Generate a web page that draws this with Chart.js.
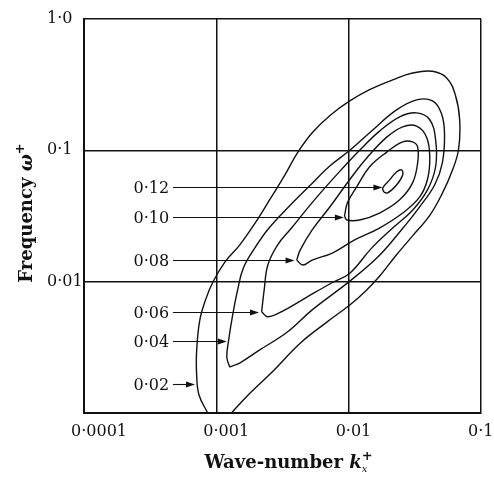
<!DOCTYPE html>
<html>
<head>
<meta charset="utf-8">
<script src="https://cdn.jsdelivr.net/npm/chart.js@4"></script>
<style>
  html, body { margin: 0; padding: 0; background: #fff; }
  #wrap { width: 494px; height: 483px; }
</style>
</head>
<body>
<div id="wrap"><canvas id="chart" width="494" height="483"></canvas></div>
<script>
// ticks
const xTickVals = [0.0001, 0.001, 0.01, 0.1];
const xTickLabels = ["0·0001", "0·001", "0·01", "0·1"];
const yTickVals = [0.001, 0.01, 0.1, 1];
const yTickLabels = ["", "0·01", "0·1", "1·0"];

// contour levels, outlines as [k, omega]
const levels = ["0·02", "0·04", "0·06", "0·08", "0·10", "0·12"];

const c002 = [[0.00086,0.001],[0.00074,0.00137],[0.00071,0.00195],[0.00071,0.0030],[0.00075,0.0051],
  [0.00083,0.0073],[0.00094,0.0099],[0.00116,0.0141],[0.0015,0.019],[0.00199,0.0285],[0.00258,0.0434],
  [0.0033,0.065],[0.0041,0.0955],[0.0053,0.136],[0.0073,0.186],[0.0102,0.238],[0.0144,0.29],[0.0215,0.344],
  [0.0304,0.388],[0.043,0.40],[0.055,0.356],[0.064,0.264],[0.069,0.171],[0.0676,0.101],[0.060,0.068],
  [0.051,0.047],[0.041,0.032],[0.0304,0.0223],[0.0226,0.0157],[0.0171,0.0110],[0.0132,0.00835],
  [0.0102,0.00665],[0.0068,0.0049],[0.0043,0.0034],[0.0027,0.0021],[0.0018,0.00142],[0.0013,0.001]];

const c004 = [[0.00126,0.00224],[0.0012,0.00267],[0.00124,0.0036],[0.00133,0.0056],[0.00145,0.0087],
  [0.0016,0.0127],[0.00195,0.018],[0.0025,0.0256],[0.0036,0.038],[0.0051,0.054],[0.0072,0.076],
  [0.0102,0.10],[0.0152,0.143],[0.023,0.203],[0.0326,0.242],[0.043,0.238],[0.050,0.193],[0.053,0.136],
  [0.051,0.080],[0.0446,0.0545],[0.0343,0.037],[0.0243,0.0239],[0.0166,0.0154],[0.0102,0.0101],
  [0.0053,0.0061],[0.0034,0.0041],[0.0021,0.0030],[0.0015,0.0024],[0.00126,0.00224]];

const c006 = [[0.0022,0.0059],[0.0023,0.0087],[0.00245,0.0134],[0.0029,0.019],[0.0037,0.0256],
  [0.0053,0.040],[0.0081,0.065],[0.0121,0.10],[0.0171,0.14],[0.0243,0.18],[0.0326,0.193],[0.041,0.171],
  [0.0454,0.12],[0.0454,0.075],[0.0394,0.050],[0.0304,0.035],[0.0215,0.0256],[0.0149,0.018],
  [0.0102,0.0116],[0.0076,0.0099],[0.0048,0.0076],[0.0032,0.0060],[0.00245,0.0054],[0.0022,0.0059]];

const c008 = [[0.00405,0.0146],[0.0043,0.0174],[0.0053,0.0248],[0.0072,0.037],[0.0102,0.060],
  [0.0137,0.0875],[0.0194,0.126],[0.0256,0.151],[0.0326,0.153],[0.0388,0.126],[0.041,0.089],
  [0.0394,0.060],[0.0343,0.044],[0.0256,0.0333],[0.0171,0.0256],[0.0111,0.0208],[0.0076,0.0166],
  [0.0053,0.0146],[0.0045,0.0134],[0.00405,0.0146]];

const c010 = [[0.0093,0.0316],[0.0098,0.040],[0.0115,0.0526],[0.0144,0.075],[0.0194,0.097],
  [0.0256,0.116],[0.0304,0.116],[0.0332,0.106],[0.0332,0.080],[0.0304,0.0565],[0.0243,0.042],
  [0.0171,0.0333],[0.0121,0.0295],[0.0097,0.0295],[0.0093,0.0316]];

const c012 = [[0.0184,0.0482],[0.0197,0.0474],[0.023,0.0545],[0.0256,0.065],[0.0251,0.071],
  [0.023,0.0684],[0.0204,0.0596],[0.0181,0.0518],[0.0184,0.0482]];

// label arrows: height of each arrow and where it ends
const arrowY = [0.00166, 0.00353, 0.00588, 0.0146, 0.0311, 0.0526];
const arrowEndX = [0.00069, 0.0012, 0.0021, 0.0039, 0.0092, 0.018];
const labelX = 0.00044;
const arrowStartX = 0.00047;

const ink = "#111";
const serif = '"DejaVu Serif", "Liberation Serif", serif';

function drawRich(ctx, parts, cx, cy) {
  let total = 0;
  parts.forEach(p => {
    ctx.font = p.font;
    p.w = ctx.measureText(p.t).width;
    if (!p.under) total += p.w;
  });
  let x = cx - total / 2;
  let lastX = x;
  parts.forEach(p => {
    ctx.font = p.font;
    if (p.under) {
      ctx.fillText(p.t, lastX, cy + (p.dy || 0));
    } else {
      ctx.fillText(p.t, x, cy + (p.dy || 0));
      lastX = x;
      x += p.w;
    }
  });
}

const annot = {
  id: "annot",
  afterDatasetsDraw(chart) {
    const { ctx, scales: { x, y } } = chart;
    ctx.save();
    ctx.fillStyle = ink;
    ctx.strokeStyle = ink;
    ctx.font = "16px " + serif;
    ctx.textAlign = "right";
    ctx.textBaseline = "middle";
    levels.forEach((lab, i) => {
      const py = Math.round(y.getPixelForValue(arrowY[i])) + 0.5;
      const x0 = x.getPixelForValue(arrowStartX);
      const x1 = x.getPixelForValue(arrowEndX[i]);
      ctx.fillText(lab, x.getPixelForValue(labelX), py + 1);
      ctx.lineWidth = 1.1;
      ctx.beginPath();
      ctx.moveTo(x0, py);
      ctx.lineTo(x1 - 5, py);
      ctx.stroke();
      ctx.beginPath();
      ctx.moveTo(x1, py);
      ctx.lineTo(x1 - 9, py - 3);
      ctx.lineTo(x1 - 9, py + 3);
      ctx.closePath();
      ctx.fill();
    });
    ctx.restore();
  },
  afterDraw(chart) {
    const { ctx, chartArea } = chart;
    ctx.save();
    ctx.fillStyle = ink;
    ctx.textAlign = "left";
    ctx.textBaseline = "alphabetic";
    drawRich(ctx, [
      { t: "Wave-number ", font: "bold 18px " + serif },
      { t: "k", font: "italic bold 18px " + serif },
      { t: "+", font: "bold 13px " + serif, dy: -8 },
      { t: "x", font: "italic 10px " + serif, dy: 4, under: true }
    ], (chartArea.left + chartArea.right) / 2 + 6, 468);

    ctx.translate(32, 213);
    ctx.rotate(-Math.PI / 2);
    drawRich(ctx, [
      { t: "Frequency ", font: "bold 18px " + serif },
      { t: "ω", font: "italic bold 18px " + serif },
      { t: "+", font: "bold 13px " + serif, dy: -8 }
    ], 0, 0);
    ctx.restore();
  }
};

function lineSet(pts) {
  return {
    data: pts.map(p => ({ x: p[0], y: p[1] })),
    showLine: true,
    borderColor: ink,
    borderWidth: 1.4,
    pointRadius: 0,
    tension: 0.4,
    fill: false
  };
}

new Chart(document.getElementById("chart"), {
  type: "scatter",
  data: { datasets: [c002, c004, c006, c008, c010, c012].map(lineSet) },
  options: {
    responsive: false,
    animation: false,
    devicePixelRatio: 1,
    layout: { padding: { left: 47, right: 13, top: 19, bottom: 0 } },
    plugins: { legend: { display: false }, tooltip: { enabled: false } },
    scales: {
      x: {
        type: "logarithmic",
        min: 0.0001,
        max: 0.1,
        afterBuildTicks: s => { s.ticks = xTickVals.map(v => ({ value: v })); },
        afterFit: s => { s.height = 70; s.paddingLeft = 0; s.paddingRight = 0; },
        grid: { color: ink, lineWidth: 1.5, drawTicks: false },
        border: { display: true, color: ink, width: 2 },
        ticks: {
          autoSkip: false,
          maxRotation: 0,
          align: "start",
          labelOffset: -13,
          padding: 9,
          color: ink,
          font: { family: serif, size: 16 },
          callback: v => xTickLabels[xTickVals.indexOf(v)]
        }
      },
      y: {
        type: "logarithmic",
        min: 0.001,
        max: 1,
        afterBuildTicks: s => { s.ticks = yTickVals.map(v => ({ value: v })); },
        afterFit: s => { s.width = 37; },
        grid: { color: ink, lineWidth: 1.5, drawTicks: false },
        border: { display: true, color: ink, width: 2 },
        ticks: {
          autoSkip: false,
          crossAlign: "far",
          color: ink,
          font: { family: serif, size: 16 },
          callback: v => yTickLabels[yTickVals.indexOf(v)]
        }
      }
    }
  },
  plugins: [annot]
});
</script>
</body>
</html>
